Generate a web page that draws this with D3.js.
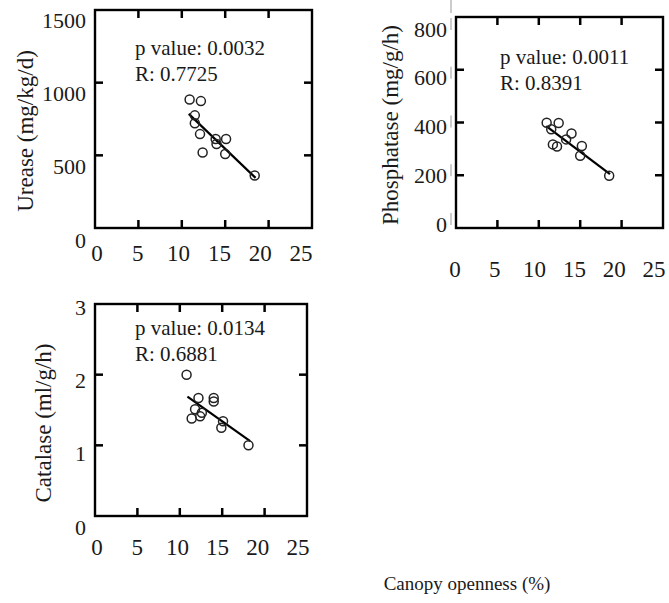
<!DOCTYPE html>
<html>
<head>
<meta charset="utf-8">
<script src="https://cdn.jsdelivr.net/npm/d3@7"></script>
<style>
  html, body { margin: 0; padding: 0; background: #fff; }
  svg { display: block; font-family: "Liberation Serif", "Times New Roman", serif; }
</style>
</head>
<body>
<div id="chart"></div>
<script>
// Enzyme activity vs canopy openness: three small scatter panels with a fitted line each.

const xTicks = [0, 5, 10, 15, 20, 25];
const xTitle = "Canopy openness (%)";

const ureaseX = [10.9, 12.2, 11.5, 11.5, 12.1, 12.4, 13.9, 15.1, 14.0, 15.0, 18.4];
const ureaseY = [884, 873, 775, 721, 646, 520, 612, 612, 578, 509, 361];
const ureaseFitX = [10.8, 18.5];
const ureaseFitY = [785, 345];
const ureaseTicks = [0, 500, 1000, 1500];
const ureaseStats = ["p value: 0.0032", "R: 0.7725"];

const phosX = [10.95, 12.4, 11.5, 11.7, 12.2, 13.95, 13.3, 15.2, 15.0, 18.5];
const phosY = [399, 398, 374, 317, 309, 358, 336, 311, 274, 198];
const phosFitX = [10.9, 18.6];
const phosFitY = [386, 204];
const phosTicks = [0, 200, 400, 600, 800];
const phosStats = ["p value: 0.0011", "R: 0.8391"];

const catX = [10.8, 12.2, 14.0, 14.0, 11.8, 12.4, 11.4, 15.1, 14.9, 18.1, 12.6];
const catY = [2.0, 1.67, 1.67, 1.62, 1.51, 1.41, 1.38, 1.34, 1.25, 1.0, 1.46];
const catFitX = [10.9, 18.3];
const catFitY = [1.69, 1.06];
const catTicks = [0, 1, 2, 3];
const catStats = ["p value: 0.0134", "R: 0.6881"];

const W = 669, H = 603;
const svg = d3.select("#chart").append("svg").attr("width", W).attr("height", H);

const panels = [
  { title: "Urease (mg/kg/d)", xs: ureaseX, ys: ureaseY, fx: ureaseFitX, fy: ureaseFitY, ticks: ureaseTicks, stats: ureaseStats,
    box: { x0: 95, x1: 312, y0: 228, y1: 10 }, yLab: [240, 20], yLabX: 86, xLabY: 253, xLab: [97, 301],
    titleX: 25, titleY: 131, statX: 135, statY: 48, marks: false },
  { title: "Phosphatase (mg/g/h)", xs: phosX, ys: phosY, fx: phosFitX, fy: phosFitY, ticks: phosTicks, stats: phosStats,
    box: { x0: 456, x1: 663, y0: 228, y1: 17 }, yLab: [224, 29], yLabX: 447, xLabY: 269, xLab: [455, 654],
    titleX: 390, titleY: 125, statX: 500, statY: 57, marks: true },
  { title: "Catalase (ml/g/h)", xs: catX, ys: catY, fx: catFitX, fy: catFitY, ticks: catTicks, stats: catStats,
    box: { x0: 95, x1: 307, y0: 516, y1: 304 }, yLab: [527, 307], yLabX: 86, xLabY: 547, xLab: [97, 298],
    titleX: 43, titleY: 423, statX: 135, statY: 328, marks: false },
];

const TICK = 8;

panels.forEach((p) => {
  const b = p.box;
  const yMax = p.ticks[p.ticks.length - 1];
  const x = d3.scaleLinear().domain([0, 25]).range([b.x0, b.x1]);
  const y = d3.scaleLinear().domain([0, yMax]).range([b.y0, b.y1]);
  // tick labels in the original sit on their own slightly shifted grid
  const xl = d3.scaleLinear().domain([0, 25]).range(p.xLab);
  const yl = d3.scaleLinear().domain([0, yMax]).range(p.yLab);
  const g = svg.append("g");

  // inward mirror ticks on all four sides
  const ticksX = xTicks.filter((t) => t > 0 && t < 25);
  const ticksY = p.ticks.filter((t) => t > 0 && t < yMax);
  const tk = g.append("g").attr("stroke", "#000").attr("stroke-width", 2.5);
  ticksX.forEach((t) => {
    tk.append("line").attr("x1", x(t)).attr("x2", x(t)).attr("y1", b.y0).attr("y2", b.y0 - TICK);
    tk.append("line").attr("x1", x(t)).attr("x2", x(t)).attr("y1", b.y1).attr("y2", b.y1 + TICK);
  });
  ticksY.forEach((t) => {
    tk.append("line").attr("x1", b.x0).attr("x2", b.x0 + TICK).attr("y1", y(t)).attr("y2", y(t));
    tk.append("line").attr("x1", b.x1).attr("x2", b.x1 - TICK).attr("y1", y(t)).attr("y2", y(t));
  });

  g.append("rect").attr("x", b.x0).attr("y", b.y1).attr("width", b.x1 - b.x0).attr("height", b.y0 - b.y1)
    .attr("fill", "none").attr("stroke", "#000").attr("stroke-width", 2.4);

  // tick labels
  g.append("g").selectAll("text").data(xTicks).join("text")
    .attr("x", (d) => xl(d)).attr("y", p.xLabY).attr("text-anchor", "middle").attr("dominant-baseline", "central")
    .attr("font-size", 23).attr("fill", "#1a1a1a").text((d) => d);
  g.append("g").selectAll("text").data(p.ticks).join("text")
    .attr("x", p.yLabX).attr("y", (d) => yl(d)).attr("text-anchor", "end").attr("dominant-baseline", "central")
    .attr("font-size", 22).attr("fill", "#1a1a1a").text((d) => d);

  if (p.marks) {
    // faint stray strokes beside the tick labels
    const m = g.append("g").attr("stroke", "#999").attr("stroke-width", 1);
    p.ticks.forEach((t) => m.append("line").attr("x1", p.yLabX + 4).attr("x2", p.yLabX + 4)
      .attr("y1", yl(t) - 11).attr("y2", yl(t) + 1));
    m.append("line").attr("x1", p.yLabX + 4).attr("x2", p.yLabX + 4).attr("y1", 0).attr("y2", b.y1 - 4);
  }

  // axis title
  g.append("text").attr("transform", `translate(${p.titleX},${p.titleY}) rotate(-90)`)
    .attr("text-anchor", "middle").attr("dominant-baseline", "central").attr("font-size", 23).attr("fill", "#1a1a1a")
    .text(p.title);

  // stats
  g.append("g").selectAll("text").data(p.stats).join("text")
    .attr("x", p.statX).attr("y", (d, i) => p.statY + i * 26).attr("dominant-baseline", "central")
    .attr("font-size", 21).attr("fill", "#1a1a1a").text((d) => d);

  // fitted line
  g.append("line").attr("x1", x(p.fx[0])).attr("y1", y(p.fy[0])).attr("x2", x(p.fx[1])).attr("y2", y(p.fy[1]))
    .attr("stroke", "#000").attr("stroke-width", 2.2);

  // points
  g.append("g").selectAll("circle").data(p.xs.map((v, i) => [v, p.ys[i]])).join("circle")
    .attr("cx", (d) => x(d[0])).attr("cy", (d) => y(d[1])).attr("r", 4.5)
    .attr("fill", "none").attr("stroke", "#222").attr("stroke-width", 1.5);
});

svg.append("text").attr("x", 467).attr("y", 583).attr("text-anchor", "middle").attr("dominant-baseline", "central")
  .attr("font-size", 19).attr("fill", "#1a1a1a").text(xTitle);
</script>
</body>
</html>
